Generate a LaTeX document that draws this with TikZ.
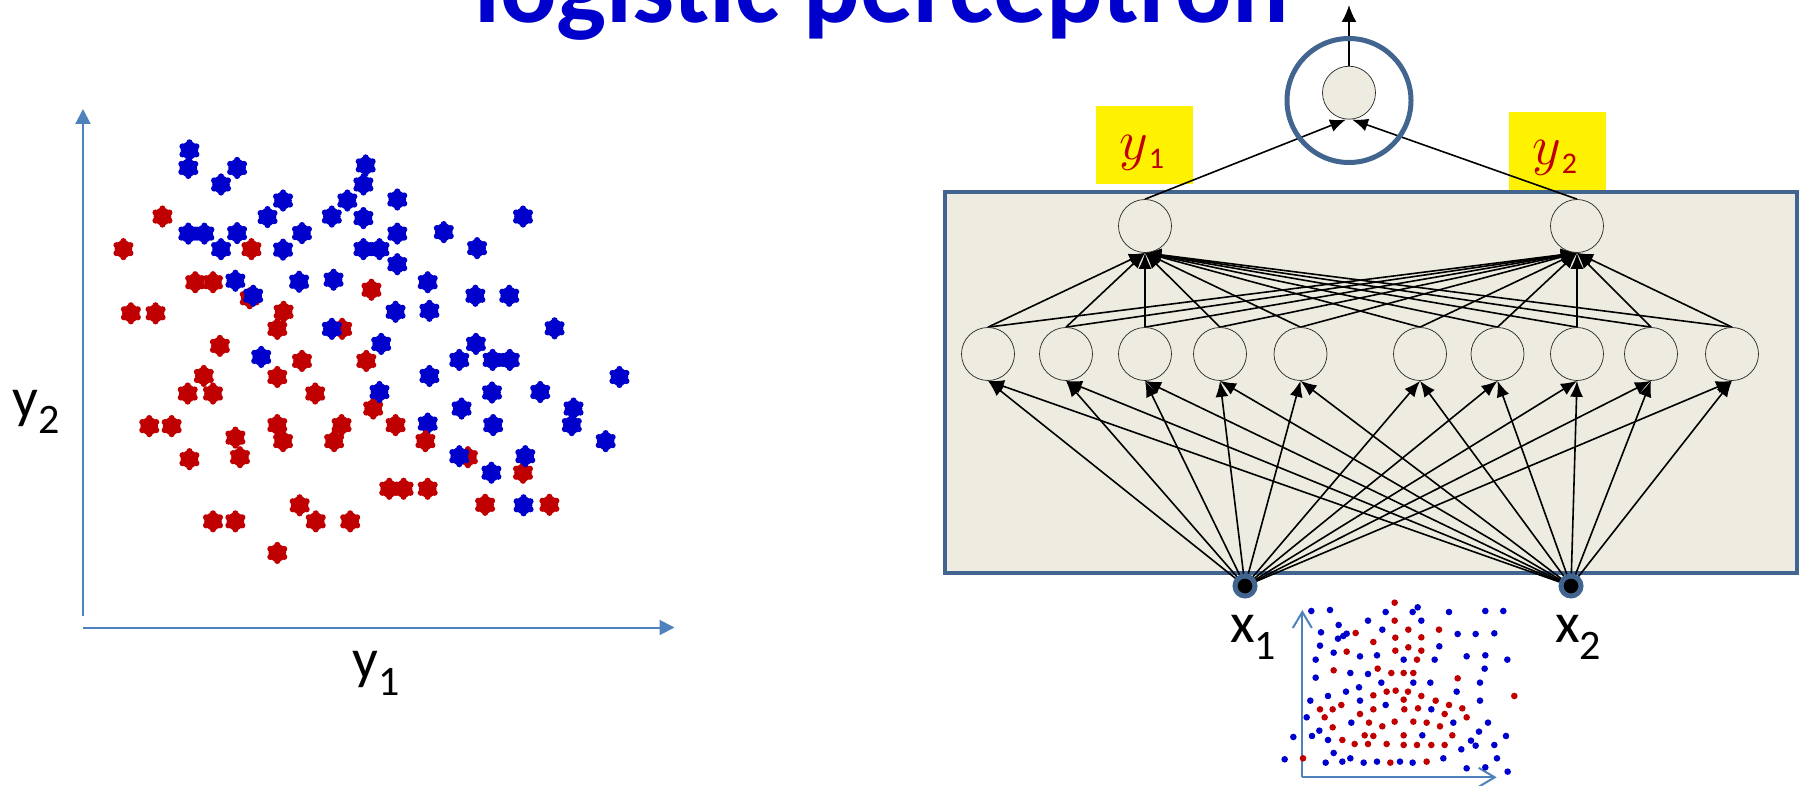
\RequirePackage{fix-cm}
\documentclass[tikz,border=0pt]{standalone}
\usepackage{fontspec}
\setmainfont{Carlito}
\usetikzlibrary{arrows.meta}
\definecolor{tblue}{HTML}{0000CC}
\definecolor{dred}{HTML}{C00000}
\definecolor{axblue}{HTML}{4F81BD}
\definecolor{frameblue}{HTML}{41658F}
\definecolor{bgbeige}{HTML}{EEECE1}
\pgfdeclarelayer{back}
\pgfdeclarelayer{mid}
\pgfsetlayers{back,mid,main}
\newcommand\sublab[2]{#1\raisebox{-17pt}{\fontsize{42}{42}\selectfont #2}}
\newcommand\mathlab[2]{$#1$\kern1pt\raisebox{-9pt}{\fontsize{30}{30}\selectfont$\mathrm{#2}$}}
\begin{document}
\begin{tikzpicture}[x=1pt,y=-1pt,
  flower/.pic={\begin{scope}[x=1pt,y=1pt]
    \fill (0,0) circle[radius=8.8];
    \foreach \a in {90,150,210,270,330,30} \fill (\a:8.0) circle[radius=3.1];
    \end{scope}},
  sdot/.style={circle, inner sep=0, minimum size=6.6pt},
  axis/.style={draw=axblue, line width=2pt},
  neuron/.style={circle, draw=black!85, line width=0.7pt, fill=bgbeige, minimum size=53pt, inner sep=0},
  inp/.style={circle, fill=black, draw=frameblue, line width=5pt, minimum size=20pt, inner sep=0},
  ring/.style={circle, draw=frameblue, line width=5pt, minimum size=124pt, inner sep=0},
  edge/.style={draw, line width=1.6pt, -{Latex[length=16pt,width=13pt]}},
  bigedge/.style={draw, line width=1.7pt, -{Latex[length=17pt,width=15pt]}},
  lab/.style={anchor=base west, inner sep=0, font=\fontsize{57}{57}\selectfont},
  ylab/.style={anchor=base west, inner sep=0, text=dred, font=\fontsize{56}{56}\selectfont},
  ybox/.style={fill=yellow, minimum width=97pt, minimum height=78pt, inner sep=0},
]
\useasboundingbox (0,0) rectangle (1805,786);

% title
\node[anchor=base west, inner sep=0, text=tblue, font=\bfseries\fontsize{105.5}{105.5}\selectfont] (title) at (474,22.7) {logistic perceptron};

% ---------- left scatter ----------
\coordinate (yaxB) at (83,616);
\coordinate (yaxT) at (83,109);
\coordinate (xaxL) at (83,627.5);
\coordinate (xaxR) at (674.5,627.5);
\draw[axis, -{Triangle[length=15pt,width=15pt]}] (yaxB) -- (yaxT);
\draw[axis, -{Triangle[length=15pt,width=15pt]}] (xaxL) -- (xaxR);
\node[lab] (ly2) at (12,417) {\sublab{y}{2}};
\node[lab] (ly1) at (352,678) {\sublab{y}{1}};

\begin{scope}[x=0.5741pt, y=-0.5013pt]
\foreach \px/\py in {283/432, 215/497, 438/497, 340/563, 371/563, 228/625, 271/625, 435/595, 647/578, 494/622, 483/656, 596/656, 383/690, 526/720, 638/720, 355/750, 483/752, 327/785, 371/785, 549/785, 650/815, 260/850, 299/850, 483/848, 595/848, 689/848, 410/873, 493/880, 582/880, 330/916, 418/912, 815/912, 911/943, 678/975, 703/975, 745/975, 845/1007, 957/1007, 522/1008, 371/1040, 410/1040, 550/1040, 610/1040, 483/1103}
  \pic[dred] at (\px,\py) {flower};
\foreach \px/\py in {330/300, 328/335, 413/335, 385/368, 637/330, 633/368, 493/400, 605/400, 692/398, 466/433, 578/432, 633/435, 911/432, 328/466, 356/466, 413/465, 526/465, 692/466, 773/463, 385/497, 493/498, 633/497, 661/497, 831/495, 692/527, 410/560, 521/562, 581/558, 745/563, 441/590, 828/590, 887/590, 689/622, 748/620, 966/655, 578/656, 664/686, 829/686, 455/712, 800/718, 858/718, 888/718, 1079/752, 748/750, 661/782, 857/783, 941/782, 804/815, 999/815, 745/845, 859/848, 996/848, 1055/880, 800/910, 915/910, 856/943, 912/1008}
  \pic[tblue] at (\px,\py) {flower};
\pic[dred] at (741,880) {flower};
\end{scope}

% ---------- network ----------
\begin{pgfonlayer}{back}
\draw[draw=frameblue, line width=4pt, fill=bgbeige] (945,191.7) rectangle (1797,572.7);
\node[ybox] (yb1) at (1144.5,145) {};
\node[ybox] (yb2) at (1557,151) {};
\end{pgfonlayer}
\node[ylab] (yt1) at (1119,160) {\mathlab{y}{1}};
\node[ylab] (yt2) at (1532,165) {\mathlab{y}{2}};

\foreach \i/\xx in {1/988, 2/1066, 3/1145, 4/1220, 5/1300.5, 6/1420, 7/1497.5, 8/1577, 9/1651, 10/1732}
  \node[neuron] (h\i) at (\xx,354) {};
\node[neuron] (o1) at (1145,226) {};
\node[neuron] (o2) at (1577,226) {};
\node[neuron] (out) at (1349,92.7) {};
\node[ring] (ring) at (1349,100.5) {};
\node[inp] (x1) at (1245,586) {};
\node[inp] (x2) at (1571,586) {};
\coordinate (top) at (1349,5);

\begin{pgfonlayer}{mid}
\foreach \i in {1,...,10} {
  \draw[edge] (x1.center) -- (h\i.south);
  \draw[edge] (x2.center) -- (h\i.south);
  \draw[edge] (h\i.north) -- (o1.south);
  \draw[edge] (h\i.north) -- (o2.south);
}
\draw[edge] (o1.north) -- ([xshift=-3pt]out.south);
\draw[edge] (o2.north) -- ([xshift=3pt]out.south);
\draw[bigedge] (out.north) -- (top);
\end{pgfonlayer}

\node[lab] (lx1) at (1230,642) {\sublab{x}{1}};
\node[lab] (lx2) at (1555,642) {\sublab{x}{2}};

% ---------- small scatter ----------
\begin{scope}[shift={(1250,580)}, x=0.3333pt, y=-0.3333pt]
\coordinate (sB) at (157,592);
\coordinate (sT) at (157,90);
\coordinate (sR) at (740,592);
\draw[axis, -{Straight Barb[length=16pt,width=19pt]}] (sB) -- (sT);
\draw[axis, -{Straight Barb[length=16pt,width=19pt]}] (sB) -- (sR);
\foreach \px/\py in {184/93, 240/90, 407/96, 488/96, 503/82, 597/96, 706/93, 760/93, 266/135, 354/122, 514/122, 213/157, 264/176, 280/168, 290/161, 397/149, 623/162, 677/162, 733/160, 210/197, 568/199, 251/218, 330/229, 381/226, 461/239, 554/239, 650/229, 706/226, 772/239, 197/239, 704/266, 197/293, 301/279, 354/282, 394/308, 490/308, 541/308, 690/308, 327/322, 288/335, 620/335, 234/348, 181/362, 330/362, 407/375, 544/388, 690/362, 170/412, 304/428, 610/428, 714/428, 208/452, 186/468, 517/466, 687/455, 768/468, 234/480, 663/482, 677/497, 733/495, 130/471, 251/519, 634/508, 104/538, 227/548, 277/545, 301/535, 341/548, 381/545, 450/545, 488/548, 580/535, 650/565, 706/562, 741/535, 773/575}
  \node[sdot, fill=tblue] at (\px,\py) {};
\foreach \px/\py in {434/68, 434/122, 475/149, 317/159, 370/186, 436/173, 514/172, 567/149, 290/215, 436/212, 475/202, 514/212, 501/239, 251/271, 383/266, 424/279, 461/279, 490/279, 623/295, 410/335, 437/332, 474/335, 370/346, 514/348, 461/359, 557/362, 597/375, 210/388, 248/388, 274/375, 370/388, 463/388, 504/385, 637/385, 224/412, 584/402, 650/412, 330/402, 248/442, 357/428, 397/439, 434/425, 490/425, 530/428, 570/439, 344/466, 370/468, 461/466, 607/466, 277/480, 314/492, 354/492, 410/492, 461/495, 501/495, 544/495, 584/495, 159/535, 421/548, 530/545, 793/348}
  \node[sdot, fill=dred] at (\px,\py) {};
\end{scope}
\end{tikzpicture}
\end{document}
